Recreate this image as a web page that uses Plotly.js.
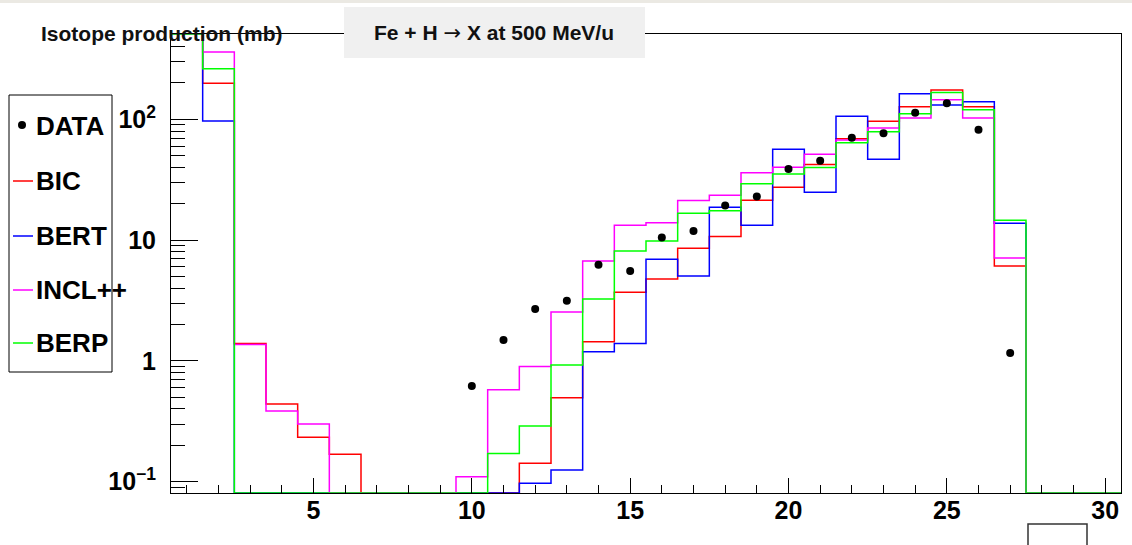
<!DOCTYPE html>
<html>
<head>
<meta charset="utf-8">
<script src="https://cdn.plot.ly/plotly-3.0.1.min.js"></script>
<style>
  html, body { margin: 0; padding: 0; background: #ffffff; }
  #chart { width: 1132px; height: 545px; }
</style>
</head>
<body>
<div id="chart"></div>
<script>
// ---- data ----
const Z = [1,2,3,4,5,6,7,8,9,10,11,12,13,14,15,16,17,18,19,20,21,22,23,24,25,26,27,28,29,30];
const bic  = [1000,199,1.39,0.44,0.233,0.169,0,0,0,0,0,0.142,0.495,1.44,3.70,4.76,8.55,10.7,21.4,27.4,42.2,69,96.3,127,175,127,6.11,0,0,0];
const bert = [1000,96.9,0,0,0,0,0,0,0,0,0,0.097,0.125,1.19,1.39,6.93,5.04,18.7,13.3,56.5,24.9,105.9,46.7,163,131,140,13.8,0,0,0];
const incl = [1000,361,1.37,0.385,0.30,0,0,0,0,0.11,0.578,0.90,2.54,6.7,13.3,13.9,21.3,23.5,36.1,40.0,51.3,67.4,84.7,102.5,145,102.5,7.11,0,0,0];
const berp = [1000,262,0,0,0,0,0,0,0,0,0.171,0.289,0.925,3.25,8.13,9.83,16.7,17.5,29.3,35.2,39.8,64.0,79.0,111,167,120,14.6,0,0,0];
const dataZ = [10,11,12,13,14,15,16,17,18,19,20,21,22,23,24,25,26,27];
const dataV = [0.62,1.49,2.69,3.15,6.26,5.55,10.5,11.9,19.3,22.9,38.8,45.4,70.4,76.6,113.4,135.7,82,1.16];

const seriesNames  = ['BIC','BERT','INCL++','BERP'];
const seriesValues = [bic, bert, incl, berp];
const seriesColors = ['#ff0000','#0000ff','#ff00ff','#00ff00'];
const dataName = 'DATA';

const titleText = 'Fe + H <span style="font-family:DejaVu Sans;font-weight:normal">\u2192</span> X at 500 MeV/u';
const yTitleText = 'Isotope production (mb)';
const yTickVals = [0.1, 1, 10, 100];
const yTickText = ['10<sup>\u22121</sup>', '1', '10', '10<sup>2</sup>'];

// ---- layout geometry ----
const W = 1132, H = 545;
const L = 171, R = 1121, T = 34, B = 493;
const PW = R - L, PH = B - T;
const logMin = -1.0935, logMax = 2.706;
const yMin = Math.pow(10, logMin), yMax = Math.pow(10, logMax);
const px = v => (v - L) / PW;
const py = v => (B - v) / PH;
const FONT = 'Liberation Sans, Arial, Helvetica, sans-serif';

// histogram step lines, clipped to the frame like ROOT does
function stepTrace(name, vals, color) {
  const xs = [], ys = [];
  const clip = v => Math.min(Math.max(v, yMin), yMax);
  for (let i = 0; i < Z.length; i++) { xs.push(Z[i] - 0.5); ys.push(clip(vals[i])); }
  xs.push(Z[Z.length - 1] + 0.5); ys.push(clip(vals[vals.length - 1]));
  return { type: 'scatter', mode: 'lines', name: name, x: xs, y: ys,
           line: { shape: 'hv', color: color, width: 1.5 }, showlegend: false, hoverinfo: 'skip' };
}

const traces = seriesNames.map((n, i) => stepTrace(n, seriesValues[i], seriesColors[i]));
traces.push({ type: 'scatter', mode: 'markers', name: dataName, x: dataZ, y: dataV,
              marker: { color: '#000', size: 8, symbol: 'circle' }, showlegend: false, hoverinfo: 'skip' });

// minor ticks for the log axis
const minorY = [];
for (let e = -2; e <= 2; e++) for (let d = 2; d <= 9; d++) minorY.push(d * Math.pow(10, e));

// ---- hand-drawn ROOT-style legend ----
const legendRows = [126, 181, 236, 290, 343];
const shapes = [
  // top strip of the canvas window
  { type: 'rect', xref: 'paper', yref: 'paper', x0: px(0), x1: px(W), y0: py(0), y1: py(3),
    fillcolor: '#ebe9e3', line: { width: 0 }, layer: 'above' },
  // title box
  { type: 'rect', xref: 'paper', yref: 'paper', x0: px(344), x1: px(645), y0: py(58), y1: py(7),
    fillcolor: '#f0f0f0', line: { width: 0 }, layer: 'above' },
  // legend box
  { type: 'rect', xref: 'paper', yref: 'paper', x0: px(9), x1: px(112), y0: py(372), y1: py(95),
    fillcolor: 'rgba(0,0,0,0)', line: { color: '#000', width: 1 }, layer: 'above' },
  // data dot in legend
  { type: 'circle', xref: 'paper', yref: 'paper', x0: px(18), x1: px(26), y0: py(legendRows[0] + 3), y1: py(legendRows[0] - 5),
    fillcolor: '#000', line: { width: 0 }, layer: 'above' },
  // partially visible box at bottom right
  { type: 'rect', xref: 'paper', yref: 'paper', x0: px(1028), x1: px(1087), y0: py(552), y1: py(524),
    fillcolor: '#ffffff', line: { color: '#333', width: 1.5 }, layer: 'above' }
];
seriesNames.forEach((n, i) => {
  shapes.push({ type: 'line', xref: 'paper', yref: 'paper', x0: px(13), x1: px(33),
                y0: py(legendRows[i + 1]), y1: py(legendRows[i + 1]),
                line: { color: seriesColors[i], width: 1.5 }, layer: 'above' });
});

const annotations = [
  { text: yTitleText, xref: 'paper', yref: 'paper', x: px(39), y: py(33), xanchor: 'left', yanchor: 'middle',
    showarrow: false, font: { family: FONT, size: 21, color: '#111', weight: 'bold' } }
];
[dataName].concat(seriesNames).forEach((n, i) => {
  annotations.push({ text: n, xref: 'paper', yref: 'paper', x: px(34), y: py(legendRows[i]),
                     xanchor: 'left', yanchor: 'middle', showarrow: false,
                     font: { family: FONT, size: 26, color: '#000', weight: 'bold' } });
});

const layout = {
  width: W, height: H,
  margin: { l: L, r: W - R, t: T, b: H - B, pad: 0 },
  paper_bgcolor: '#ffffff', plot_bgcolor: '#ffffff',
  showlegend: false,
  title: { text: titleText, x: 494 / W, xref: 'container', xanchor: 'center',
           y: 1 - 33 / H, yref: 'container', yanchor: 'middle',
           font: { family: FONT, size: 21, color: '#111', weight: 'bold' } },
  xaxis: {
    range: [0.5, 30.5], tickmode: 'linear', tick0: 0, dtick: 5,
    ticks: 'inside', ticklen: 15, tickwidth: 1, tickcolor: '#000',
    minor: { dtick: 1, ticks: 'inside', ticklen: 8, tickwidth: 1, tickcolor: '#000', showgrid: false },
    showline: true, mirror: true, linecolor: '#000', linewidth: 1,
    showgrid: false, zeroline: false, automargin: false, ticklabelstandoff: -5,
    tickfont: { family: FONT, size: 25, color: '#000', weight: 'bold' }
  },
  yaxis: {
    type: 'log', range: [logMin, logMax],
    tickmode: 'array', tickvals: yTickVals, ticktext: yTickText,
    ticks: 'inside', ticklen: 27, tickwidth: 1, tickcolor: '#000',
    minor: { tickmode: 'array', tickvals: minorY, ticks: 'inside', ticklen: 14, tickwidth: 1, tickcolor: '#000', showgrid: false },
    showline: true, mirror: true, linecolor: '#000', linewidth: 1,
    showgrid: false, zeroline: false, automargin: false, ticklabelstandoff: 9,
    tickfont: { family: FONT, size: 25, color: '#000', weight: 'bold' }
  },
  shapes: shapes,
  annotations: annotations
};

Plotly.newPlot('chart', traces, layout, { staticPlot: true, displayModeBar: false });
</script>
</body>
</html>
